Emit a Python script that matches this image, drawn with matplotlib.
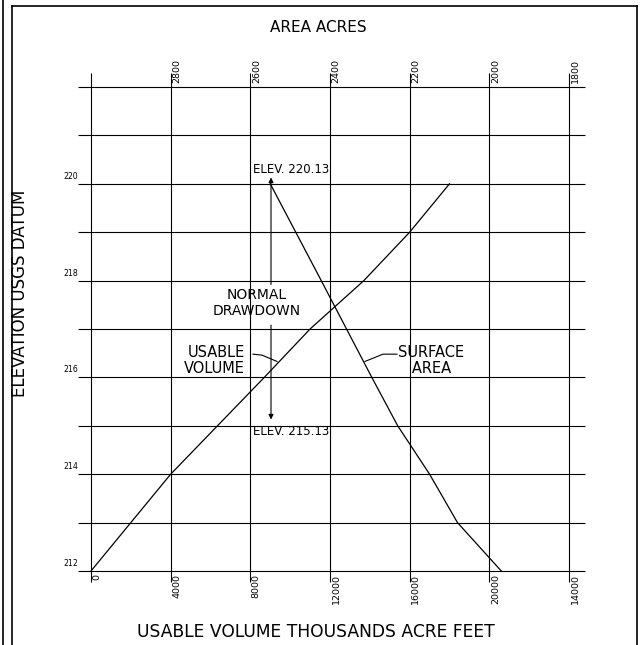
import matplotlib
matplotlib.use("Agg")
import matplotlib.pyplot as plt
from matplotlib.lines import Line2D
from matplotlib.transforms import offset_copy

# elevation vs usable volume (thousands acre feet scale on bottom)
vol_elev = [212, 214, 216, 217, 218, 219, 220]
vol = [0, 4000, 8700, 11000, 13700, 16000, 18000]

# elevation vs surface area (acres, top scale, reversed)
area_elev = [220, 218, 216, 215, 214, 213, 212]
area = [2550, 2422, 2295, 2230, 2150, 2080, 1970]

vol_ticks = [0, 4000, 8000, 12000, 16000, 20000, 24000]
vol_labels = ["0", "4000", "8000", "12000", "16000", "20000", "14000"]
area_ticks = [2800, 2600, 2400, 2200, 2000, 1800]
area_labels = ["2800", "2600", "2400", "2200", "2000", "1800"]
elev_grid = [212, 213, 214, 215, 216, 217, 218, 219, 220, 221, 222]
elev_labels = [212, 214, 216, 218, 220]

normal_top = 220.13
normal_bottom = 215.13

W, H = 644, 645
fig = plt.figure(figsize=(W / 100, H / 100), dpi=100)
ax = fig.add_axes([91 / W, (H - 571) / H, (569 - 91) / W, (571 - 87) / H])
ax.set_xlim(0, 24000)
ax.set_ylim(212, 222)
ax.axis("off")

top = ax.twiny()
top.set_xlim(3000, 1800)
top.axis("off")

lw = 0.8
px_x = 24000 / (569 - 91)
px_y = 10 / (571 - 87)

# grid
ax.hlines(elev_grid, -13 * px_x, 24000 + 16 * px_x, color="black", lw=lw, clip_on=False)
ax.vlines(vol_ticks, 212 - 11 * px_y, 222 + 14 * px_y, color="black", lw=lw, clip_on=False)

# curves
ax.plot(vol, vol_elev, color="black", lw=0.9, clip_on=False)
top.plot(area, area_elev, color="black", lw=0.9, clip_on=False)

tfont = dict(family="DejaVu Sans", color="black")

# bottom tick labels
for v, lab in zip(vol_ticks, vol_labels):
    tr = offset_copy(ax.transData, fig=fig, x=1.5, y=-3, units="dots")
    ax.text(v, 212, lab, transform=tr, rotation=90, ha="left", va="top",
            fontsize=6.8, **tfont)

# top tick labels
for a, lab in zip(area_ticks, area_labels):
    tr = offset_copy(top.transData, fig=fig, x=1.5, y=4, units="dots")
    top.text(a, 222, lab, transform=tr, rotation=90, ha="left", va="bottom",
             fontsize=6.8, clip_on=False, **tfont)

# elevation labels
for e in elev_labels:
    tr = offset_copy(ax.transData, fig=fig, x=-13, y=3, units="dots")
    ax.text(0, e, str(e), transform=tr, ha="right", va="bottom", fontsize=5.6, **tfont)

# normal drawdown arrows
x_dd = (271 - 91) * px_x
ax.annotate("", xy=(x_dd, normal_top), xytext=(x_dd, 217.92),
            arrowprops=dict(arrowstyle="-|>", color="black", lw=0.8,
                            mutation_scale=7, shrinkA=0, shrinkB=0))
ax.annotate("", xy=(x_dd, normal_bottom), xytext=(x_dd, 217.08),
            arrowprops=dict(arrowstyle="-|>", color="black", lw=0.8,
                            mutation_scale=7, shrinkA=0, shrinkB=0))
ax.text((253 - 91) * px_x, normal_top + 0.03, "ELEV. %.2f" % normal_top,
        ha="left", va="bottom", fontsize=8.5, **tfont)
ax.text((253 - 91) * px_x, normal_bottom - 0.12, "ELEV. %.2f" % normal_bottom,
        ha="left", va="top", fontsize=8.5, **tfont)
ax.text((257 - 91) * px_x, 217.53, "NORMAL\nDRAWDOWN", ha="center", va="center",
        fontsize=10, linespacing=1.2, **tfont)

# curve callouts
ax.text((245 - 91) * px_x, 216.35, "USABLE\nVOLUME", ha="right", va="center",
        fontsize=10.5, linespacing=1.15, **tfont)
ax.plot([(253 - 91) * px_x, (262 - 91) * px_x, (277 - 91) * px_x],
        [216.48, 216.46, 216.33], color="black", lw=0.8)
ax.text((398 - 91) * px_x, 216.35, "SURFACE\n   AREA", ha="left", va="center",
        fontsize=10.5, linespacing=1.15, **tfont)
ax.plot([(397 - 91) * px_x, (383 - 91) * px_x, (365 - 91) * px_x],
        [216.48, 216.48, 216.33], color="black", lw=0.8)

# axis titles
fig.text(318 / W, 1 - 28 / H, "AREA ACRES", ha="center", va="center", fontsize=11, **tfont)
fig.text(316 / W, 1 - 632 / H, "USABLE VOLUME THOUSANDS ACRE FEET", ha="center",
         va="center", fontsize=12.3, **tfont)
fig.text(20 / W, 1 - 293 / H, "ELEVATION USGS DATUM", ha="center", va="center",
         rotation=90, fontsize=12, **tfont)

# drawing border
for xs, ys in [([3, 3], [0, H]), ([12, 12], [0, H - 6]), ([12, 637], [H - 6, H - 6]),
               ([637, 637], [0, H - 6])]:
    fig.add_artist(Line2D([x / W for x in xs], [y / H for y in ys], color="black", lw=1.2))

fig.savefig("out.png", dpi=100)
